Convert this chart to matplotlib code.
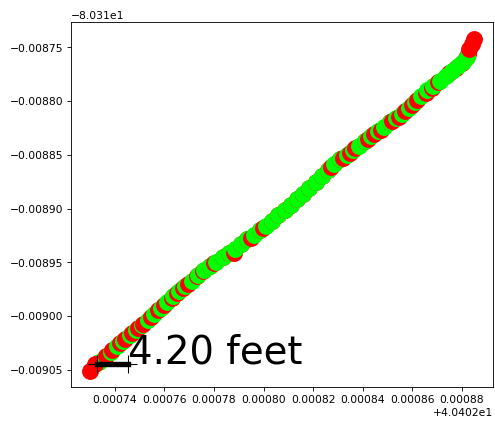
import matplotlib
matplotlib.use("Agg")
import matplotlib.pyplot as plt

# raw gps fixes (red) and smoothed track (green), lat on x, lon on y
raw_lat = [40.4027300, 40.4027320, 40.4027365, 40.4027390, 40.4027420, 40.4027440, 40.4027470, 40.4027495,
           40.4027515, 40.4027545, 40.4027575, 40.4027600, 40.4027630, 40.4027650, 40.4027675, 40.4027695,
           40.4027730, 40.4027755, 40.4027785, 40.4027800, 40.4027835, 40.4027860, 40.4027880, 40.4027910,
           40.4027935, 40.4027950, 40.4027985, 40.4027998, 40.4028035, 40.4028060, 40.4028085, 40.4028110,
           40.4028135, 40.4028160, 40.4028185, 40.4028210, 40.4028235, 40.4028260, 40.4028273, 40.4028310,
           40.4028322, 40.4028348, 40.4028370, 40.4028410, 40.4028420, 40.4028445, 40.4028475, 40.4028510,
           40.4028520, 40.4028545, 40.4028572, 40.4028598, 40.4028620, 40.4028655, 40.4028678, 40.4028705,
           40.4028750, 40.4028775, 40.4028800, 40.4028815, 40.4028823, 40.4028830, 40.4028842, 40.4028849]
raw_lon = [-80.3190510, -80.3190450, -80.3190370, -80.3190320, -80.3190255, -80.3190215, -80.3190155, -80.3190110,
           -80.3190075, -80.3190010, -80.3189945, -80.3189895, -80.3189830, -80.3189790, -80.3189740, -80.3189705,
           -80.3189625, -80.3189580, -80.3189530, -80.3189510, -80.3189453, -80.3189413, -80.3189415, -80.3189330,
           -80.3189287, -80.3189270, -80.3189203, -80.3189183, -80.3189115, -80.3189063, -80.3189013, -80.3188963,
           -80.3188912, -80.3188860, -80.3188805, -80.3188750, -80.3188697, -80.3188643, -80.3188610, -80.3188543,
           -80.3188525, -80.3188485, -80.3188440, -80.3188369, -80.3188355, -80.3188310, -80.3188265, -80.3188198,
           -80.3188185, -80.3188145, -80.3188095, -80.3188035, -80.3187985, -80.3187920, -80.3187875, -80.3187825,
           -80.3187735, -80.3187695, -80.3187645, -80.3187600, -80.3187560, -80.3187515, -80.3187470, -80.3187420]

smooth_lat = [40.4027335, 40.4027360, 40.4027385, 40.4027410, 40.4027435, 40.4027460, 40.4027485, 40.4027510,
              40.4027535, 40.4027560, 40.4027585, 40.4027610, 40.4027635, 40.4027660, 40.4027685, 40.4027710,
              40.4027735, 40.4027760, 40.4027785, 40.4027810, 40.4027835, 40.4027860, 40.4027885, 40.4027910,
              40.4027935, 40.4027960, 40.4027985, 40.4028010, 40.4028035, 40.4028060, 40.4028085, 40.4028110,
              40.4028135, 40.4028160, 40.4028185, 40.4028210, 40.4028235, 40.4028260, 40.4028285, 40.4028310,
              40.4028335, 40.4028360, 40.4028385, 40.4028410, 40.4028435, 40.4028460, 40.4028485, 40.4028510,
              40.4028535, 40.4028560, 40.4028585, 40.4028610, 40.4028635, 40.4028660, 40.4028685, 40.4028710,
              40.4028735, 40.4028760, 40.4028785, 40.4028805, 40.4028820]
smooth_lon = [-80.3190425, -80.3190385, -80.3190335, -80.3190280, -80.3190230, -80.3190180, -80.3190130, -80.3190085,
              -80.3190035, -80.3189980, -80.3189925, -80.3189870, -80.3189818, -80.3189769, -80.3189720, -80.3189670,
              -80.3189617, -80.3189572, -80.3189530, -80.3189493, -80.3189453, -80.3189413, -80.3189373, -80.3189330,
              -80.3189287, -80.3189245, -80.3189203, -80.3189163, -80.3189115, -80.3189063, -80.3189013, -80.3188963,
              -80.3188912, -80.3188860, -80.3188805, -80.3188750, -80.3188697, -80.3188643, -80.3188588, -80.3188543,
              -80.3188500, -80.3188457, -80.3188413, -80.3188369, -80.3188326, -80.3188280, -80.3188240, -80.3188198,
              -80.3188156, -80.3188115, -80.3188065, -80.3188005, -80.3187950, -80.3187900, -80.3187855, -80.3187808,
              -80.3187763, -80.3187718, -80.3187675, -80.3187635, -80.3187590]

# scale bar
bar_lat = [40.4027329, 40.4027454]
bar_lon = [-80.3190442, -80.3190442]
bar_label = "4.20 feet"

# original looks like a 6.4in wide figure shrunk down, so lower the dpi
dpi = 77.34
fig = plt.figure(figsize=(495.2 / dpi, 423.2 / dpi), dpi=dpi)
ax = fig.add_axes([0.143, 0.084, 0.853, 0.863])

# draw point by point so later fixes sit on top of earlier ones
for i in range(len(raw_lat)):
    ax.scatter(raw_lat[i], raw_lon[i], color='red', s=215)
    if i < len(smooth_lat):
        ax.scatter(smooth_lat[i], smooth_lon[i], color='lime', s=215)

ax.plot(bar_lat, bar_lon, color='black', linewidth=5, marker='+', markersize=16)
ax.text(bar_lat[1], bar_lon[1], bar_label, fontsize=36, ha='left', va='baseline')

fig.savefig("out.png", dpi=dpi)
